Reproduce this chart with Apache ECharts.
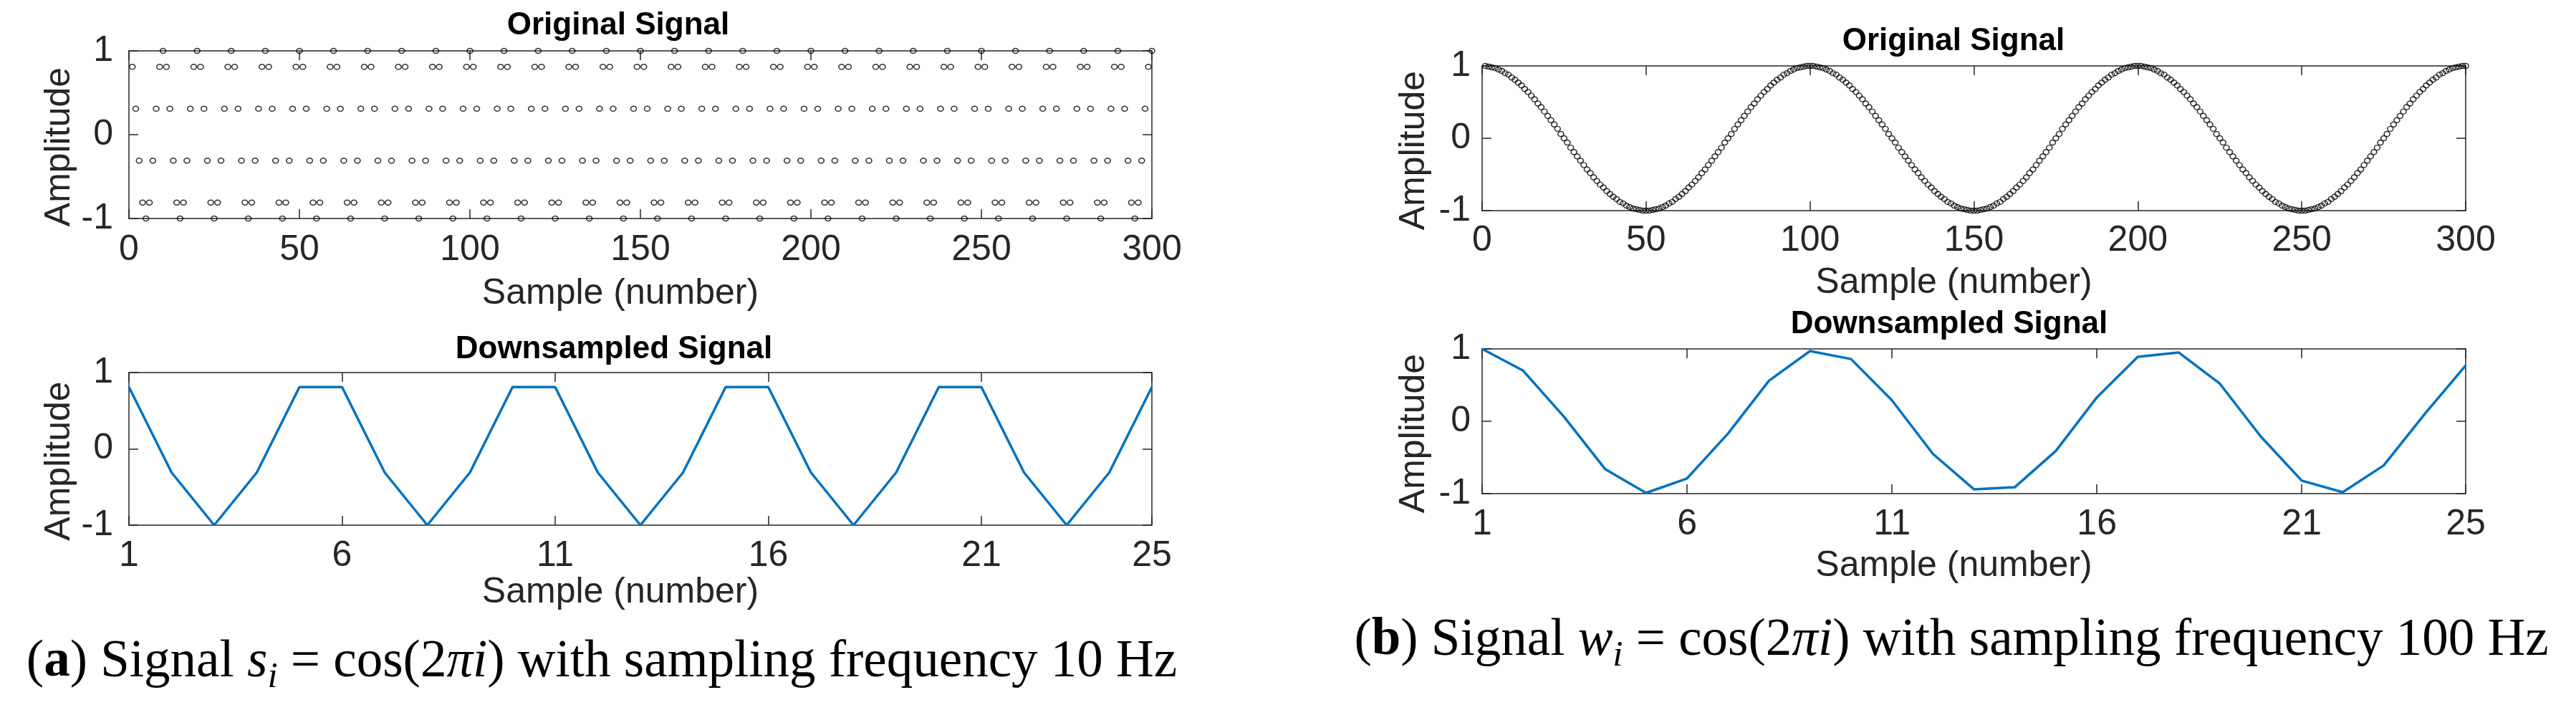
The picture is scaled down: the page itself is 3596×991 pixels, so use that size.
<!DOCTYPE html>
<html lang="en">
<head>
<meta charset="utf-8">
<title>Original and downsampled signals</title>
<script src="https://cdn.jsdelivr.net/npm/echarts/dist/echarts.min.js"></script>
<style>
    html, body { margin: 0; padding: 0; background: #fff; }
    #main { width: 3596px; height: 991px; }
</style>
</head>
<body>
<div id="main"></div>
<script type="text/javascript">

    // (a) original signal, 10 Hz sampling, samples 1..300
    var origA = [
        0.81, 0.31, -0.31, -0.81, -1, -0.81, -0.31, 0.31, 0.81, 1,
        0.81, 0.31, -0.31, -0.81, -1, -0.81, -0.31, 0.31, 0.81, 1,
        0.81, 0.31, -0.31, -0.81, -1, -0.81, -0.31, 0.31, 0.81, 1,
        0.81, 0.31, -0.31, -0.81, -1, -0.81, -0.31, 0.31, 0.81, 1,
        0.81, 0.31, -0.31, -0.81, -1, -0.81, -0.31, 0.31, 0.81, 1,
        0.81, 0.31, -0.31, -0.81, -1, -0.81, -0.31, 0.31, 0.81, 1,
        0.81, 0.31, -0.31, -0.81, -1, -0.81, -0.31, 0.31, 0.81, 1,
        0.81, 0.31, -0.31, -0.81, -1, -0.81, -0.31, 0.31, 0.81, 1,
        0.81, 0.31, -0.31, -0.81, -1, -0.81, -0.31, 0.31, 0.81, 1,
        0.81, 0.31, -0.31, -0.81, -1, -0.81, -0.31, 0.31, 0.81, 1,
        0.81, 0.31, -0.31, -0.81, -1, -0.81, -0.31, 0.31, 0.81, 1,
        0.81, 0.31, -0.31, -0.81, -1, -0.81, -0.31, 0.31, 0.81, 1,
        0.81, 0.31, -0.31, -0.81, -1, -0.81, -0.31, 0.31, 0.81, 1,
        0.81, 0.31, -0.31, -0.81, -1, -0.81, -0.31, 0.31, 0.81, 1,
        0.81, 0.31, -0.31, -0.81, -1, -0.81, -0.31, 0.31, 0.81, 1,
        0.81, 0.31, -0.31, -0.81, -1, -0.81, -0.31, 0.31, 0.81, 1,
        0.81, 0.31, -0.31, -0.81, -1, -0.81, -0.31, 0.31, 0.81, 1,
        0.81, 0.31, -0.31, -0.81, -1, -0.81, -0.31, 0.31, 0.81, 1,
        0.81, 0.31, -0.31, -0.81, -1, -0.81, -0.31, 0.31, 0.81, 1,
        0.81, 0.31, -0.31, -0.81, -1, -0.81, -0.31, 0.31, 0.81, 1,
        0.81, 0.31, -0.31, -0.81, -1, -0.81, -0.31, 0.31, 0.81, 1,
        0.81, 0.31, -0.31, -0.81, -1, -0.81, -0.31, 0.31, 0.81, 1,
        0.81, 0.31, -0.31, -0.81, -1, -0.81, -0.31, 0.31, 0.81, 1,
        0.81, 0.31, -0.31, -0.81, -1, -0.81, -0.31, 0.31, 0.81, 1,
        0.81, 0.31, -0.31, -0.81, -1, -0.81, -0.31, 0.31, 0.81, 1,
        0.81, 0.31, -0.31, -0.81, -1, -0.81, -0.31, 0.31, 0.81, 1,
        0.81, 0.31, -0.31, -0.81, -1, -0.81, -0.31, 0.31, 0.81, 1,
        0.81, 0.31, -0.31, -0.81, -1, -0.81, -0.31, 0.31, 0.81, 1,
        0.81, 0.31, -0.31, -0.81, -1, -0.81, -0.31, 0.31, 0.81, 1,
        0.81, 0.31, -0.31, -0.81, -1, -0.81, -0.31, 0.31, 0.81, 1
    ];

    // (b) original signal, 100 Hz sampling, samples 1..300
    var origB = [
        1, 0.99, 0.98, 0.97, 0.95, 0.93, 0.9, 0.88, 0.84, 0.81,
        0.77, 0.73, 0.68, 0.64, 0.59, 0.54, 0.48, 0.43, 0.37, 0.31,
        0.25, 0.19, 0.13, 0.06, 0, -0.06, -0.13, -0.19, -0.25, -0.31,
        -0.37, -0.43, -0.48, -0.54, -0.59, -0.64, -0.68, -0.73, -0.77, -0.81,
        -0.84, -0.88, -0.9, -0.93, -0.95, -0.97, -0.98, -0.99, -1, -1,
        -1, -0.99, -0.98, -0.97, -0.95, -0.93, -0.9, -0.88, -0.84, -0.81,
        -0.77, -0.73, -0.68, -0.64, -0.59, -0.54, -0.48, -0.43, -0.37, -0.31,
        -0.25, -0.19, -0.13, -0.06, 0, 0.06, 0.13, 0.19, 0.25, 0.31,
        0.37, 0.43, 0.48, 0.54, 0.59, 0.64, 0.68, 0.73, 0.77, 0.81,
        0.84, 0.88, 0.9, 0.93, 0.95, 0.97, 0.98, 0.99, 1, 1,
        1, 0.99, 0.98, 0.97, 0.95, 0.93, 0.9, 0.88, 0.84, 0.81,
        0.77, 0.73, 0.68, 0.64, 0.59, 0.54, 0.48, 0.43, 0.37, 0.31,
        0.25, 0.19, 0.13, 0.06, 0, -0.06, -0.13, -0.19, -0.25, -0.31,
        -0.37, -0.43, -0.48, -0.54, -0.59, -0.64, -0.68, -0.73, -0.77, -0.81,
        -0.84, -0.88, -0.9, -0.93, -0.95, -0.97, -0.98, -0.99, -1, -1,
        -1, -0.99, -0.98, -0.97, -0.95, -0.93, -0.9, -0.88, -0.84, -0.81,
        -0.77, -0.73, -0.68, -0.64, -0.59, -0.54, -0.48, -0.43, -0.37, -0.31,
        -0.25, -0.19, -0.13, -0.06, 0, 0.06, 0.13, 0.19, 0.25, 0.31,
        0.37, 0.43, 0.48, 0.54, 0.59, 0.64, 0.68, 0.73, 0.77, 0.81,
        0.84, 0.88, 0.9, 0.93, 0.95, 0.97, 0.98, 0.99, 1, 1,
        1, 0.99, 0.98, 0.97, 0.95, 0.93, 0.9, 0.88, 0.84, 0.81,
        0.77, 0.73, 0.68, 0.64, 0.59, 0.54, 0.48, 0.43, 0.37, 0.31,
        0.25, 0.19, 0.13, 0.06, 0, -0.06, -0.13, -0.19, -0.25, -0.31,
        -0.37, -0.43, -0.48, -0.54, -0.59, -0.64, -0.68, -0.73, -0.77, -0.81,
        -0.84, -0.88, -0.9, -0.93, -0.95, -0.97, -0.98, -0.99, -1, -1,
        -1, -0.99, -0.98, -0.97, -0.95, -0.93, -0.9, -0.88, -0.84, -0.81,
        -0.77, -0.73, -0.68, -0.64, -0.59, -0.54, -0.48, -0.43, -0.37, -0.31,
        -0.25, -0.19, -0.13, -0.06, 0, 0.06, 0.13, 0.19, 0.25, 0.31,
        0.37, 0.43, 0.48, 0.54, 0.59, 0.64, 0.68, 0.73, 0.77, 0.81,
        0.84, 0.88, 0.9, 0.93, 0.95, 0.97, 0.98, 0.99, 1, 1
    ];

    // downsampled signals, samples 1..25
    var dsA = [0.81, -0.31, -1, -0.31, 0.81, 0.81, -0.31, -1, -0.31, 0.81,
               0.81, -0.31, -1, -0.31, 0.81, 0.81, -0.31, -1, -0.31, 0.81,
               0.81, -0.31, -1, -0.31, 0.81];
    var dsB = [1, 0.7, 0.06, -0.66, -0.99, -0.79, -0.17, 0.56, 0.97, 0.86,
               0.29, -0.45, -0.94, -0.91, -0.41, 0.33, 0.89, 0.95, 0.52, -0.21,
               -0.82, -0.98, -0.61, 0.1, 0.77];

    var dsCategories = ['1', '2', '3', '4', '5', '6', '7', '8', '9', '10', '11', '12', '13',
                        '14', '15', '16', '17', '18', '19', '20', '21', '22', '23', '24', '25'];
    var dsTickLabels = ['1', '6', '11', '16', '21', '25'];

    var sampleNo = [];
    for (var n = 1; n <= 300; n++) sampleNo.push(n);

    var FONT = "'Liberation Sans', Arial, Helvetica, sans-serif";
    var SERIF = "'Liberation Serif', 'Times New Roman', serif";
    var INK = '#262626';

    function frameLine() {
        return { show: true, onZero: false, lineStyle: { color: INK, width: 1.5 } };
    }
    function inTicks(interval) {
        var t = { show: true, inside: true, length: 13, lineStyle: { color: INK, width: 1.5 } };
        if (interval) t.interval = interval;
        return t;
    }
    function pickTick(idx, val) {
        return dsTickLabels.indexOf(val) >= 0;
    }

    function sampleAxes(gi, kind, labelMargin, nameGap) {
        var base = kind == 'value'
            ? { type: 'value', min: 0, max: 300, interval: 50 }
            : { type: 'category', data: dsCategories, boundaryGap: false };
        var iv = kind == 'value' ? null : pickTick;
        var bottom = Object.assign({}, base, {
            gridIndex: gi, position: 'bottom',
            axisLine: frameLine(), axisTick: inTicks(iv), splitLine: { show: false },
            axisLabel: { margin: labelMargin, fontSize: 50, color: INK, fontFamily: FONT },
            name: 'Sample (number)', nameLocation: 'middle', nameGap: nameGap,
            nameTextStyle: { fontSize: 50, color: INK, fontFamily: FONT, padding: [0, 56, 0, 0] }
        });
        if (iv) bottom.axisLabel.interval = iv;
        var top = Object.assign({}, base, {
            gridIndex: gi, position: 'top',
            axisLine: frameLine(), axisTick: inTicks(iv), splitLine: { show: false },
            axisLabel: { show: false }
        });
        return [bottom, top];
    }

    function ampAxes(gi, labelMargin, nameGap) {
        return [{
            type: 'value', gridIndex: gi, position: 'left', min: -1, max: 1, interval: 1,
            axisLine: frameLine(), axisTick: inTicks(), splitLine: { show: false },
            axisLabel: { margin: labelMargin, fontSize: 50, color: INK, fontFamily: FONT },
            name: 'Amplitude', nameLocation: 'middle', nameGap: nameGap,
            nameTextStyle: { fontSize: 50, color: INK, fontFamily: FONT, padding: [0, 34, 0, 0] }
        }, {
            type: 'value', gridIndex: gi, position: 'right', min: -1, max: 1, interval: 1,
            axisLine: frameLine(), axisTick: inTicks(), splitLine: { show: false },
            axisLabel: { show: false }
        }];
    }

    function panelTitle(text, cx, top) {
        return {
            text: text, left: cx, top: top, textAlign: 'center', padding: 0,
            textStyle: { fontSize: 44, fontWeight: 'bold', color: '#000', fontFamily: FONT }
        };
    }

    var capBase = { fontFamily: SERIF, fontSize: 73, fontWeight: 'normal', fontStyle: 'normal', color: '#000', lineHeight: 93 };
    var capRich = {
        n: capBase,
        b: Object.assign({}, capBase, { fontWeight: 'bold' }),
        m: Object.assign({}, capBase, { fontStyle: 'italic' }),
        s: { fontFamily: SERIF, fontSize: 51, fontWeight: 'normal', fontStyle: 'italic', color: '#000', verticalAlign: 'bottom' }
    };
    function caption(letter, sym, freq, cx, top) {
        return {
            text: '{n|(}{b|' + letter + '}{n|) Signal }{m|' + sym + '}{s|i}{n| = cos(2}{m|\u03C0i}{n|) with sampling frequency ' + freq + ' Hz}',
            left: cx, top: top, textAlign: 'center', padding: 0,
            textStyle: { fontFamily: SERIF, fontSize: 73, fontWeight: 'normal', color: '#000', rich: capRich }
        };
    }

    function scatterOf(values, axisIdx) {
        return {
            type: 'scatter', xAxisIndex: axisIdx, yAxisIndex: axisIdx,
            data: sampleNo.map(function (x, i) { return [x, values[i]]; }),
            symbol: 'circle', symbolSize: [8, 7], silent: true,
            itemStyle: { color: 'rgba(0,0,0,0)', borderColor: '#000', borderWidth: 1.5 }
        };
    }
    function lineOf(values, axisIdx) {
        return {
            type: 'line', xAxisIndex: axisIdx, yAxisIndex: axisIdx, data: values,
            symbol: 'none', showSymbol: false, clip: false, silent: true,
            lineStyle: { color: '#0072BD', width: 3.5 }
        };
    }

    var myChart = echarts.init(document.getElementById('main'), null, { renderer: 'canvas' });
    var option = {
        animation: false,
        backgroundColor: '#fff',
        textStyle: { fontFamily: FONT },
        title: [
            panelTitle('Original Signal', 863, 14),
            panelTitle('Downsampled Signal', 857, 466),
            panelTitle('Original Signal', 2727, 36),
            panelTitle('Downsampled Signal', 2721, 431),
            caption('a', 's', '10', 840, 878),
            caption('b', 'w', '100', 2724, 848)
        ],
        grid: [
            { left: 180, top: 71, width: 1428, height: 234, containLabel: false, outerBoundsMode: 'none' },
            { left: 180, top: 520, width: 1428, height: 213, containLabel: false, outerBoundsMode: 'none' },
            { left: 2069, top: 92, width: 1373, height: 202, containLabel: false, outerBoundsMode: 'none' },
            { left: 2069, top: 487, width: 1373, height: 202, containLabel: false, outerBoundsMode: 'none' }
        ],
        xAxis: [].concat(
            sampleAxes(0, 'value', 19, 80),
            sampleAxes(1, 'category', 18, 67),
            sampleAxes(2, 'value', 17, 76),
            sampleAxes(3, 'category', 18, 76)
        ),
        yAxis: [].concat(
            ampAxes(0, 22, 72),
            ampAxes(1, 22, 72),
            ampAxes(2, 16, 70),
            ampAxes(3, 16, 70)
        ),
        series: [
            scatterOf(origA, 0),
            lineOf(dsA, 2),
            scatterOf(origB, 4),
            lineOf(dsB, 6)
        ]
    };
    myChart.setOption(option);

</script>
</body>
</html>
